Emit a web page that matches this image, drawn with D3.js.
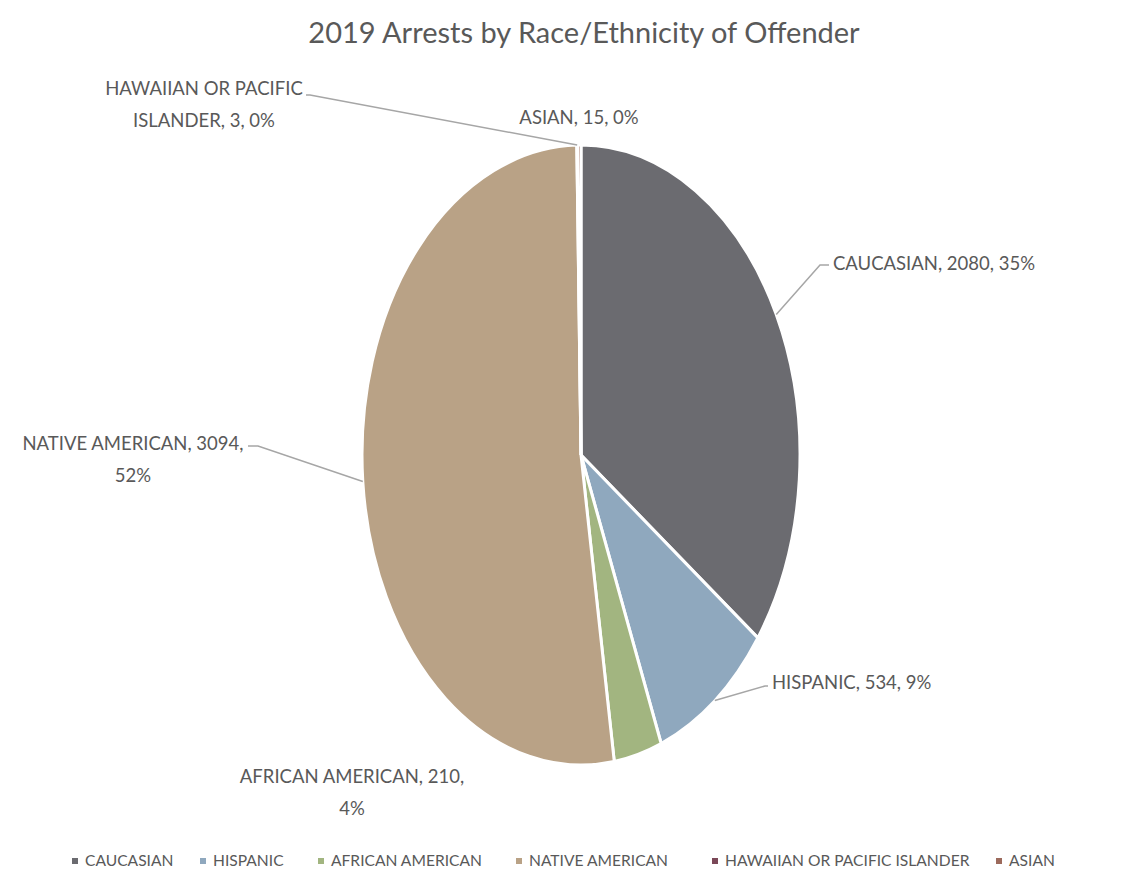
<!DOCTYPE html>
<html>
<head>
<meta charset="utf-8">
<script src="https://cdn.jsdelivr.net/npm/d3@7"></script>
<style>
  body { margin: 0; background: #fff; }
  text { font-family: Lato, "Open Sans", sans-serif; fill: #595959; }
</style>
</head>
<body>
<div id="mainDiv"></div>
<script>
// chart data
var categories = [ 'CAUCASIAN', 'HISPANIC', 'AFRICAN AMERICAN', 'NATIVE AMERICAN', 'HAWAIIAN OR PACIFIC ISLANDER', 'ASIAN' ];
var arrests = [ 2080, 534, 210, 3094, 3, 15 ];
var percentLabels = [ '35%', '9%', '4%', '52%', '0%', '0%' ];
var colors = [ '#6b6b70', '#8fa8be', '#a2b580', '#b9a286', '#7b4858', '#9c6a5c' ];

var width = 1143, height = 889,
    cx = 581, cy = 455, rx = 219, ry = 310;

// label layout: lines of text, anchor x, first baseline y, leader elbow
var labelLayout = [
    { lines: [ 'CAUCASIAN, 2080, 35%' ], x: 833, y: 270, anchor: 'start', elbow: [ [ 820, 265 ], [ 829, 265 ] ] },
    { lines: [ 'HISPANIC, 534, 9%' ], x: 772, y: 689, anchor: 'start', elbow: [ [ 765, 686 ], [ 768, 686 ] ] },
    { lines: [ 'AFRICAN AMERICAN, 210,', '4%' ], x: 352, y: 783, anchor: 'middle', elbow: null },
    { lines: [ 'NATIVE AMERICAN, 3094,', '52%' ], x: 133, y: 450, anchor: 'middle', elbow: [ [ 258, 446 ], [ 248, 446 ] ] },
    { lines: [ 'HAWAIIAN OR PACIFIC', 'ISLANDER, 3, 0%' ], x: 204, y: 95, anchor: 'middle', elbow: [ [ 310, 95 ], [ 306, 95 ] ] },
    { lines: [ 'ASIAN, 15, 0%' ], x: 579, y: 124, anchor: 'middle', elbow: null }
];

var legendX = [ 72, 200, 318, 516, 712, 996 ];

var svg = d3.select( '#mainDiv' ).append( 'svg' )
    .attr( 'width', width )
    .attr( 'height', height );

svg.append( 'text' )
    .attr( 'x', 584 )
    .attr( 'y', 43 )
    .attr( 'text-anchor', 'middle' )
    .style( 'font-size', '29px' )
    .text( '2019 Arrests by Race/Ethnicity of Offender' );

var pie = d3.pie().sort( null ).value( function ( d ) { return d; } );
var arcs = pie( arrests );
var arc = d3.arc().innerRadius( 0 ).outerRadius( ry );

var pieGrp = svg.append( 'g' )
    .attr( 'transform', 'translate(' + cx + ',' + cy + ') scale(' + ( rx / ry ) + ',1)' );

pieGrp.selectAll( 'path' )
    .data( arcs )
    .enter().append( 'path' )
    .attr( 'd', arc )
    .attr( 'fill', function ( d, i ) { return colors[ i ]; } )
    .attr( 'stroke', '#fff' )
    .attr( 'stroke-width', 3 )
    .attr( 'vector-effect', 'non-scaling-stroke' );

// point on ellipse edge for a slice's middle angle
var edgePoint = function ( d ) {
    var a = ( d.startAngle + d.endAngle ) / 2;
    return [ cx + rx * Math.sin( a ), cy - ry * Math.cos( a ) ];
};

var labelGrp = svg.append( 'g' );
arcs.forEach( function ( d, i ) {
    var lay = labelLayout[ i ];
    if ( lay.elbow ) {
        var pts = [ edgePoint( d ) ].concat( lay.elbow );
        labelGrp.append( 'path' )
            .attr( 'd', d3.line()( pts ) )
            .attr( 'fill', 'none' )
            .attr( 'stroke', '#a6a6a6' )
            .attr( 'stroke-width', 1.5 );
    }
    var t = labelGrp.append( 'text' )
        .attr( 'text-anchor', lay.anchor )
        .style( 'font-size', '18.5px' );
    lay.lines.forEach( function ( line, j ) {
        t.append( 'tspan' )
            .attr( 'x', lay.x )
            .attr( 'y', lay.y + j * 32 )
            .text( line );
    } );
} );

var legend = svg.append( 'g' ).selectAll( 'g' )
    .data( categories )
    .enter().append( 'g' )
    .attr( 'transform', function ( d, i ) { return 'translate(' + legendX[ i ] + ',866)'; } );
legend.append( 'rect' )
    .attr( 'x', 0 ).attr( 'y', -8 )
    .attr( 'width', 6 ).attr( 'height', 6 )
    .attr( 'fill', function ( d, i ) { return colors[ i ]; } );
legend.append( 'text' )
    .attr( 'x', 13 )
    .attr( 'y', 0 )
    .style( 'font-size', '15.6px' )
    .text( function ( d ) { return d; } );
</script>
</body>
</html>
